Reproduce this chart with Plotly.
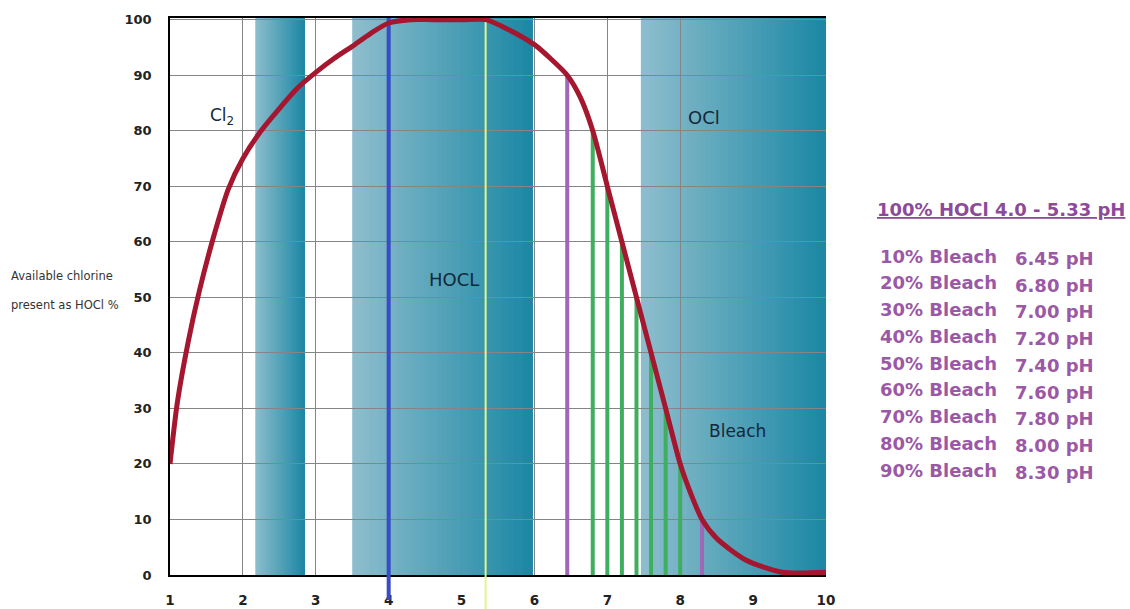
import plotly.graph_objects as go

# ---------------- data ----------------
curve_ph = [1.0, 1.1, 1.25, 1.4, 1.6, 1.8, 2.0, 2.25, 2.5, 2.75, 3.0, 3.25, 3.5, 3.75, 4.0,
            4.3, 4.6, 5.0, 5.33, 5.6, 6.0, 6.22, 6.45, 6.63, 6.8, 7.0, 7.2, 7.4, 7.6, 7.8,
            8.0, 8.15, 8.3, 8.5, 8.9, 9.4, 10.0]
curve_pct = [20, 31, 42, 51, 61, 69.5, 75, 80, 84, 87.7, 90.5, 93, 95.2, 97.5, 99.4,
             100, 100, 100, 100, 98.5, 95.5, 93, 90, 86, 80, 70, 60, 50, 40, 30,
             20, 14.5, 10, 6.6, 2.7, 0.5, 0.5]

bleach_labels = ["10% Bleach", "20% Bleach", "30% Bleach", "40% Bleach", "50% Bleach",
                 "60% Bleach", "70% Bleach", "80% Bleach", "90% Bleach"]
bleach_ph = [6.45, 6.80, 7.00, 7.20, 7.40, 7.60, 7.80, 8.00, 8.30]
bleach_hocl = [90, 80, 70, 60, 50, 40, 30, 20, 10]

hocl_low = 4.0
hocl_high = 5.33

band_start = [2.17, 3.5, 7.46]
band_end = [2.85, 5.97, 10.0]

x_ticks = [1, 2, 3, 4, 5, 6, 7, 8, 9, 10]
y_ticks = [0, 10, 20, 30, 40, 50, 60, 70, 80, 90, 100]

region_labels = ["Cl<sub>2</sub>", "HOCL", "OCl", "Bleach"]
region_x = [1.72, 4.9, 8.32, 8.79]
region_y = [82.5, 53.2, 82.4, 26.0]
region_size = [17, 18, 18, 17]

y_title_lines = ["Available chlorine", "present as HOCl %"]
y_title_pos = [53.8, 48.6]

# ---------------- styles ----------------
FONT = "DejaVu Sans, Verdana, sans-serif"
RED = "#a5162f"
PURPLE_LINE = "#a066b8"
GREEN_LINE = "#3fae5e"
BLUE_LINE = "#3a4cc4"
YELLOW_LINE = "#e2f48e"
TEXT_PURPLE = "#9a58a6"
TITLE_PURPLE = "#8c4a9a"
GRID = "#858585"
LIGHT = (141, 189, 205)
DARK = (28, 136, 164)

fig = go.Figure()

# gradient bands
shapes = []
n_steps = 40
for a, b in zip(band_start, band_end):
    for i in range(n_steps):
        t = i / (n_steps - 1)
        col = tuple(round(LIGHT[k] + (DARK[k] - LIGHT[k]) * t) for k in range(3))
        shapes.append(dict(type="rect", xref="x", yref="y",
                           x0=a + (b - a) * i / n_steps, x1=b, y0=0, y1=100.3,
                           fillcolor="rgb(%d,%d,%d)" % col, line=dict(width=0),
                           layer="below"))

# extensions of the HOCl range lines below the axis
shapes.append(dict(type="line", xref="x", yref="paper", x0=hocl_low, x1=hocl_low,
                   y0=-0.045, y1=0, line=dict(color=BLUE_LINE, width=4), layer="above"))
shapes.append(dict(type="line", xref="x", yref="paper", x0=hocl_high, x1=hocl_high,
                   y0=-0.065, y1=0, line=dict(color=YELLOW_LINE, width=2), layer="above"))

# HOCl range lines
fig.add_trace(go.Scatter(x=[hocl_low, hocl_low], y=[0, 100.3], mode="lines",
                         line=dict(color=BLUE_LINE, width=4), hoverinfo="skip", showlegend=False))
fig.add_trace(go.Scatter(x=[hocl_high, hocl_high], y=[0, 100.3], mode="lines",
                         line=dict(color=YELLOW_LINE, width=2), hoverinfo="skip", showlegend=False))

# bleach lines
for i, (ph, v) in enumerate(zip(bleach_ph, bleach_hocl)):
    col = PURPLE_LINE if i in (0, len(bleach_ph) - 1) else GREEN_LINE
    fig.add_trace(go.Scatter(x=[ph, ph], y=[0, v], mode="lines",
                             line=dict(color=col, width=4), hoverinfo="skip", showlegend=False))

# curve
fig.add_trace(go.Scatter(x=curve_ph, y=curve_pct, mode="lines",
                         line=dict(color=RED, width=5, shape="spline", smoothing=0.7),
                         showlegend=False))

annotations = []
for t, x, y, s in zip(region_labels, region_x, region_y, region_size):
    annotations.append(dict(text=t, x=x, y=y, xref="x", yref="y", showarrow=False,
                            xanchor="center", yanchor="middle",
                            font=dict(family=FONT, size=s, color="#15283a")))

for t, y in zip(y_title_lines, y_title_pos):
    annotations.append(dict(text=t, x=-0.245, y=y, xref="paper", yref="y",
                            showarrow=False, xanchor="left", yanchor="middle",
                            font=dict(family=FONT, size=11.5, color="#333333")))

title_text = f"100% HOCl {hocl_low:.1f} - {hocl_high:.2f} pH"
annotations.append(dict(
    text=f"<span style='text-decoration:underline'>{title_text}</span>",
    x=1.0747, y=0.6553, xref="paper", yref="paper", showarrow=False,
    xanchor="left", yanchor="middle",
    font=dict(family=FONT, size=18, color=TITLE_PURPLE, weight="bold")))

for i, (lab, ph) in enumerate(zip(bleach_labels, bleach_ph)):
    y = 0.5727 - i * 0.04803
    annotations.append(dict(text=lab, x=1.0793, y=y, xref="paper", yref="paper",
                            showarrow=False, xanchor="left", yanchor="middle",
                            font=dict(family=FONT, size=18, color=TEXT_PURPLE, weight="bold")))
    annotations.append(dict(text=f"{ph:.2f} pH", x=1.2851, y=y - 0.0041,
                            xref="paper", yref="paper",
                            showarrow=False, xanchor="left", yanchor="middle",
                            font=dict(family=FONT, size=18, color=TEXT_PURPLE, weight="bold")))

fig.update_layout(
    width=1130, height=609,
    margin=dict(l=170, r=304, t=18, b=34),
    plot_bgcolor="white", paper_bgcolor="white",
    shapes=shapes, annotations=annotations,
    xaxis=dict(range=[1, 10], tickvals=x_ticks, showgrid=True, gridcolor=GRID, gridwidth=1,
               showline=True, linecolor="black", linewidth=1.5, mirror=True, zeroline=False,
               ticks="", ticklabelstandoff=12, automargin=False,
               tickfont=dict(family=FONT, size=13.5, color="#222222", weight="bold")),
    yaxis=dict(range=[0, 100.3], tickvals=y_ticks, showgrid=True, gridcolor=GRID, gridwidth=1,
               showline=True, linecolor="black", linewidth=1.5, zeroline=False,
               ticks="", ticklabelstandoff=14, automargin=False,
               tickfont=dict(family=FONT, size=13, color="#222222", weight="bold")),
)

fig.write_html("out.html", config={"displayModeBar": False},
               post_script="document.body.style.margin='0px';")
